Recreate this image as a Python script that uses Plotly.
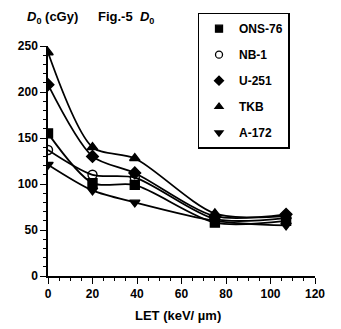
import plotly.graph_objects as go

# LET values (keV/um) and D0 values (cGy) for each cell line
let_kev = [0, 20, 39, 75, 107]
ons76 = [155, 101, 99, 58, 60]
nb1 = [137, 110, 107, 62, 63]
u251 = [208, 130, 112, 65, 67]
tkb = [243, 140, 128, 68, 65]
a172 = [121, 93, 80, 60, 55]

series = [
    ("ONS-76", ons76, "square"),
    ("NB-1", nb1, "circle-open"),
    ("U-251", u251, "diamond"),
    ("TKB", tkb, "triangle-up"),
    ("A-172", a172, "triangle-down"),
]

family = "Liberation Sans, Arial, sans-serif"
font = dict(family=family, size=13, color="black", weight="bold")

fig = go.Figure()
for name, vals, sym in series:
    fig.add_trace(go.Scatter(
        x=let_kev, y=vals, name=name, mode="lines+markers",
        line=dict(color="black", width=1.8, shape="spline", smoothing=0.8),
        marker=dict(symbol=sym, size=9, color="black",
                    line=dict(color="black", width=1.4)),
        legendgroup=name, showlegend=False,
    ))
    # marker-only key for the legend box
    fig.add_trace(go.Scatter(
        x=[None], y=[None], name=name, mode="markers",
        marker=dict(symbol=sym, size=7, color="black",
                    line=dict(color="black", width=1.3)),
        legendgroup=name, showlegend=True,
    ))

fig.update_layout(
    width=341, height=329,
    margin=dict(l=48, r=26, t=46, b=53),
    paper_bgcolor="white", plot_bgcolor="white",
    font=font,
    showlegend=True,
    legend=dict(
        x=0.56, y=1.145, xanchor="left", yanchor="top",
        bordercolor="black", borderwidth=1.5, bgcolor="white",
        traceorder="grouped", tracegroupgap=7, itemwidth=30,
        font=dict(family=family, size=12, weight="bold"),
    ),
    xaxis=dict(
        range=[0, 120], tickvals=[0, 20, 40, 60, 80, 100, 120],
        showgrid=False, zeroline=False, showline=True, linecolor="black",
        linewidth=1.5, ticks="outside", ticklen=6, tickcolor="black",
        minor=dict(ticks="outside", ticklen=3, dtick=5, tickcolor="black"),
        tickfont=dict(family=family, size=12, weight="bold"),
    ),
    yaxis=dict(
        range=[0, 250], tickvals=[0, 50, 100, 150, 200, 250],
        showgrid=False, zeroline=False, showline=True, linecolor="black",
        linewidth=1.5, ticks="outside", ticklen=6, tickcolor="black",
        minor=dict(ticks="outside", ticklen=3, dtick=10, tickcolor="black"),
        tickfont=dict(family=family, size=12, weight="bold"),
    ),
    annotations=[
        dict(text="<i>D</i><sub>0</sub> (cGy)", xref="paper", yref="paper",
             x=-0.088, y=1.125, xanchor="left", yanchor="middle",
             showarrow=False, font=font),
        dict(text="Fig.-5  <i>D</i><sub>0</sub>", xref="paper", yref="paper",
             x=0.18, y=1.125, xanchor="left", yanchor="middle",
             showarrow=False, font=font),
        dict(text="LET (keV/ µm)", xref="paper", yref="paper",
             x=0.487, y=-0.172, xanchor="center", yanchor="middle",
             showarrow=False, font=dict(family=family, size=13, weight="bold")),
    ],
)

fig.write_html("out.html")
